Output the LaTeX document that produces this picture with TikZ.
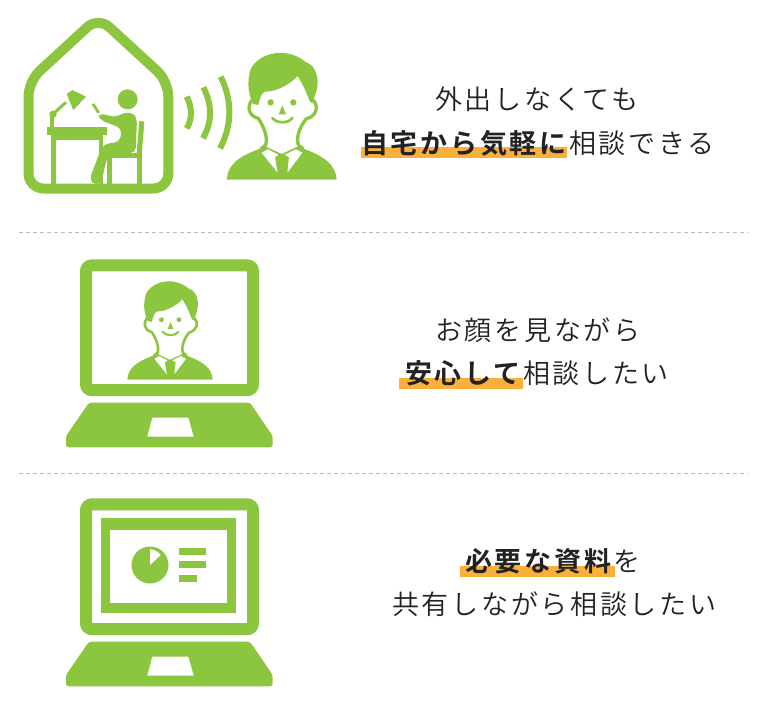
\documentclass[tikz,border=0pt]{standalone}
\usepackage{fontspec}
\newfontfamily\jp[BoldFont={Noto Sans CJK JP Bold},LetterSpace=10]{Noto Sans CJK JP DemiLight}
\definecolor{gr}{HTML}{8CC63F}
\definecolor{hl}{HTML}{FBB03B}
\definecolor{tx}{HTML}{222222}
\definecolor{da}{HTML}{BBBBBB}
\tikzset{
  txt/.style={anchor=base west,inner sep=0pt,text=tx,font=\jp\fontsize{27}{30}\selectfont},
  sep/.style={draw=da,line width=0.8pt,dash pattern=on 4pt off 3pt},
  mark bar/.style={fill=hl,draw=none},
  gf/.style={fill=gr,draw=none},
  wf/.style={fill=white,draw=none},
}
\newcommand{\personfig}[3]{%
\begin{scope}[shift={(#1,#2)},scale=#3]
  % body
  \fill[gr] (5,389) .. controls (8,345) and (40,320) .. (100,298) -- (118,288) -- (170,312) -- (222,288) -- (240,298) .. controls (300,320) and (332,345) .. (335,389) -- cycle;
  % neck and ears
  \draw[gr,line width=#3*10pt,line cap=round,line join=round] (82,150) .. controls (66,165) and (68,198) .. (100,205) .. controls (112,225) and (130,255) .. (122,285) -- (108,296);
  \draw[gr,line width=#3*10pt,line cap=round,line join=round] (264,150) .. controls (282,168) and (276,198) .. (243,207) .. controls (228,228) and (212,255) .. (220,285) -- (234,296);
  % hair
  \fill[gr] (84,162) .. controls (68,130) and (66,90) .. (78,55) .. controls (98,20) and (140,6) .. (175,9) .. controls (205,11) and (230,25) .. (243,37) .. controls (272,45) and (285,85) .. (274,125) -- (262,160) -- (255,155) .. controls (245,130) and (235,105) .. (218,78) .. controls (190,108) and (150,125) .. (120,125) .. controls (108,130) and (105,145) .. (100,165) -- cycle;
  % face
  \fill[gr] (137,157) circle[radius=9.5];
  \fill[gr] (205,157) circle[radius=9.5];
  \fill[gr] (172,166) -- (161,193) -- (183,193) -- cycle;
  \draw[gr,line width=#3*8pt,line cap=round] (142,204) .. controls (155,221) and (190,221) .. (202,204);
  % collar
  \fill[white] (110,308) -- (128,298) -- (160,314) -- (150,322) -- (158,368) -- cycle;
  \fill[white] (232,308) -- (212,298) -- (180,314) -- (192,322) -- (187,368) -- cycle;
  % tie
  \fill[gr] (153,323) -- (170,313) -- (191,323) -- (181,340) -- (189,375) -- (157,375) -- (163,340) -- cycle;
\end{scope}}
\newcommand{\laptopfig}[1]{%
\begin{scope}[yshift=-#1pt]
  \draw[gr,line width=12pt,rounded corners=6pt] (86,265.3) rectangle (253,390.2);
  \path[gf,rounded corners=2.5pt] (89,402.7) -- (250,402.7) -- (272.7,436) -- (272.7,447.3) -- (66,447.3) -- (66,436) -- cycle;
  \path[wf] (152.3,417.7) -- (188.3,417.7) -- (193.7,436.7) -- (147.3,436.7) -- cycle;
\end{scope}}
\begin{document}
\begin{tikzpicture}[x=1pt,y=-1pt]
\useasboundingbox (0,0) rectangle (768,710);
\fill[white] (0,0) rectangle (768,710);
% separators
\draw[sep] (19,232.5) -- (748,232.5);
\draw[sep] (19,473.5) -- (748,473.5);
% house
\draw[gr,line width=10pt,rounded corners=15pt,line join=round] (28.5,188.5) -- (28.5,81.3) -- (98.3,17) -- (168.3,81.3) -- (168.3,188.5) -- cycle;
\begin{scope}[shift={(40,85)},scale=1/3]
  % lamp
  \path[gf] (80,27) -- (97,15) -- (138,35) -- (100,75) -- cycle;
  \draw[gr,line width=3pt] (38,88) -- (78,52);
  \fill[gr] (39,88) circle[radius=11];
  \path[gf] (31,88) rectangle (41,127);
  % desk
  \path[gf] (20,127) rectangle (200,150);
  \path[gf] (32,150) rectangle (190,165);
  \path[gf] (32,165) rectangle (48,300);
  \path[gf] (178,165) rectangle (190,300);
  % phone
  \path[gf] (155,58) -- (163,55) -- (180,82) -- (172,85) -- cycle;
  % head
  \fill[gr] (263,43) circle[radius=30];
  % chair
  \path[gf] (200,205) rectangle (292,218);
  \path[gf] (200,205) rectangle (215,300);
  \path[gf] (290,205) rectangle (305,300);
  \path[gf] (298,107) -- (313,110) -- (305,210) -- (290,205) -- cycle;
  % body
  \path[gf,rounded corners=5pt] (175,84) -- (228,97) -- (250,83) -- (278,83) -- (291,100) -- (287,203) -- (215,205) -- (202,215) -- (182,298) -- (163,298) -- (148,285) -- (178,205) -- (190,178) -- (240,170) -- (245,130) -- (230,124) -- (178,104) -- cycle;
  % floor
  \path[gf] (0,296) rectangle (330,305);
\end{scope}
% signal waves
\begin{scope}[shift={(10,10)},scale=1/3]
  \draw[gr,line width=6pt] (530,260) .. controls (547,290) and (547,330) .. (530,355);
  \draw[gr,line width=6pt] (580,232) .. controls (607,285) and (607,335) .. (579,385);
  \draw[gr,line width=6pt] (632,200) .. controls (667,270) and (667,345) .. (630,415);
\end{scope}
\personfig{225}{50}{0.3333}
% laptop 1
\laptopfig{0}
\personfig{126}{279.1}{0.2587}
% laptop 2
\laptopfig{239}
\path[gf] (101,518.3) rectangle (236,612.7);
\path[wf] (110.3,529.7) rectangle (227,603.3);
\fill[gr] (150,565) circle[radius=18.5];
\path[wf] (150,565) -- (150,549.3) .. controls (154,549.3) and (158,551.5) .. (160.7,555) -- cycle;
\path[gf] (178.7,548) rectangle (206,555);
\path[gf] (178.7,561.3) rectangle (206,568.3);
\path[gf] (178.7,575) rectangle (197,582);
% highlights
\path[mark bar] (360.7,146.7) rectangle (566.7,157.7);
\path[mark bar] (399,378.3) rectangle (523,389);
\path[mark bar] (460,566) rectangle (615.3,577.3);
% text
\node[txt] (t1) at (435,109.5) {外出しなくても};
\node[txt] (t2) at (361,153.5) {\textbf{自宅から気軽に}相談できる};
\node[txt] (t3) at (435,340.5) {お顔を見ながら};
\node[txt] (t4) at (405,383.5) {\textbf{安心して}相談したい};
\node[txt] (t5) at (465,571.5) {\textbf{必要な資料}を};
\node[txt] (t6) at (392,614.5) {共有しながら相談したい};
\end{tikzpicture}
\end{document}
